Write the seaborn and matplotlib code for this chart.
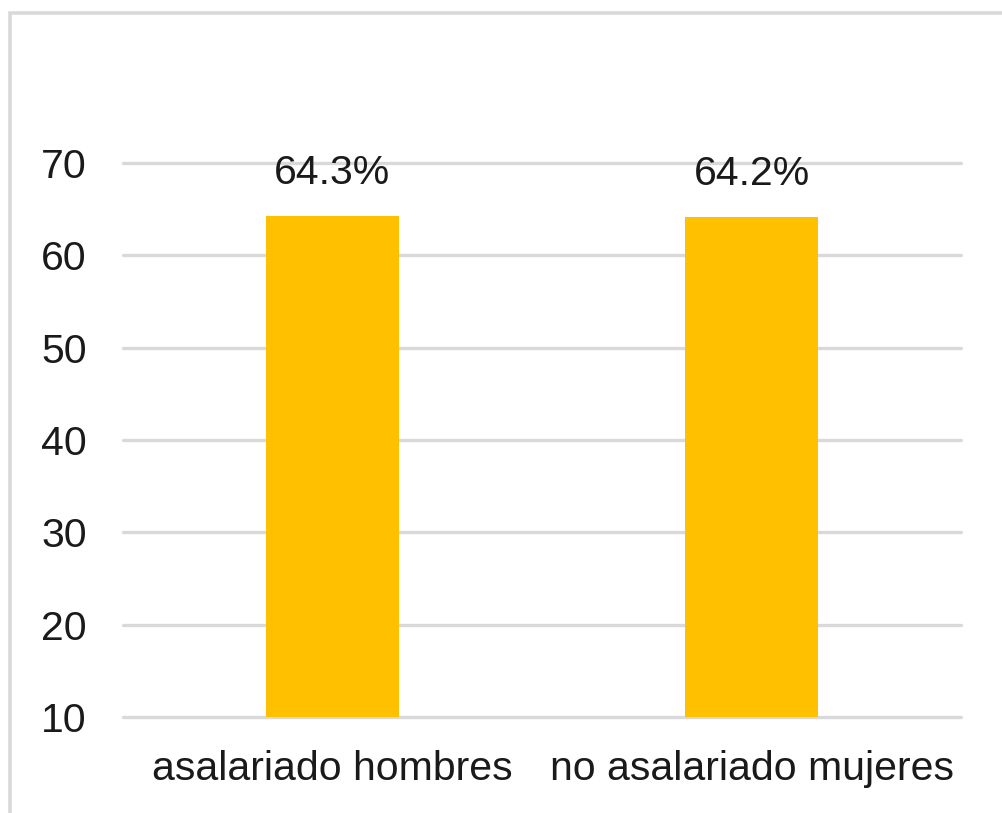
import matplotlib
matplotlib.use("Agg")
import matplotlib.pyplot as plt
import seaborn as sns
import pandas as pd
from matplotlib.patches import Rectangle

categories = ["asalariado hombres", "no asalariado mujeres"]
values = [64.3, 64.2]
labels = ["64.3%", "64.2%"]
y_ticks = [10, 20, 30, 40, 50, 60, 70]

sns.set_theme(style="white")
plt.rcParams["font.family"] = ["Liberation Sans", "DejaVu Sans"]

df = pd.DataFrame({"categoria": categories, "valor": values})

fig = plt.figure(figsize=(10.02, 8.13), dpi=100)
ax = fig.add_axes([123 / 1002, 96 / 813, (961 - 123) / 1002, (717 - 163) / 813])

sns.barplot(data=df, x="categoria", y="valor", color="#FFC000", saturation=1,
            width=0.317, ax=ax, edgecolor="none")

ax.set_ylim(10, 70)
ax.set_xlim(-0.5, 1.5)
ax.set_yticks(y_ticks)
ax.set_xlabel("")
ax.set_ylabel("")
for s in ax.spines.values():
    s.set_visible(False)

ax.yaxis.grid(True, color="#D9D9D9", linewidth=2.4)
ax.set_axisbelow(True)
for gl in ax.get_ygridlines():
    gl.set_clip_on(False)

ax.tick_params(axis="y", length=0, pad=26, labelsize=29.5, labelcolor="#1a1a1a")
ax.tick_params(axis="x", length=0, pad=24, labelsize=29.5, labelcolor="#1a1a1a")

ax.bar_label(ax.containers[0], labels=labels, padding=17, fontsize=29.5, color="#1a1a1a")

# outer frame of the chart area
fig.patches.append(Rectangle((10 / 1002, -0.1), 1.2, (813 - 13) / 813 + 0.1,
                             transform=fig.transFigure, fill=False,
                             edgecolor="#D9D9D9", linewidth=2.6))

fig.savefig("out.png", dpi=100)
